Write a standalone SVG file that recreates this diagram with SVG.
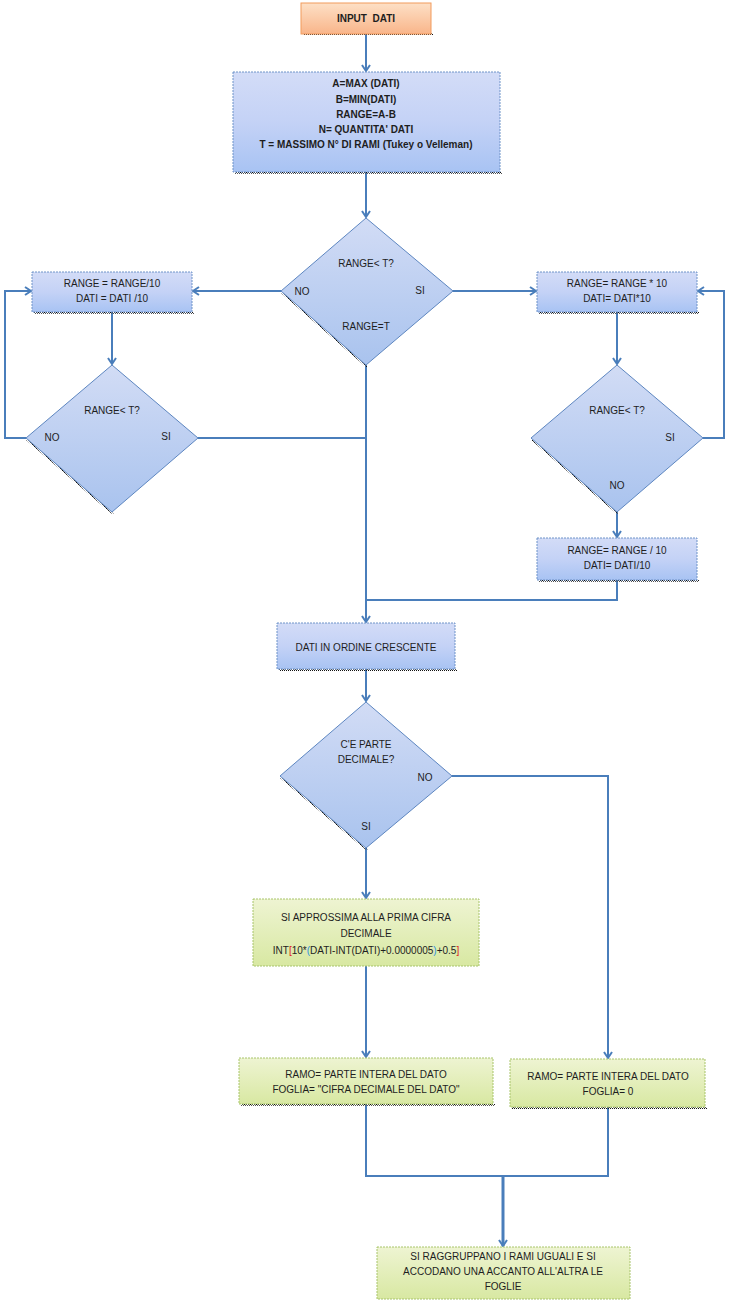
<svg xmlns="http://www.w3.org/2000/svg" width="729" height="1300" viewBox="0 0 729 1300">
<style>
text{font-family:"Liberation Sans",Arial,sans-serif;font-size:10px;fill:#1e1e1e;text-anchor:middle;dominant-baseline:central}
.b{font-weight:bold}
.blue{fill:url(#gBlue);stroke:#6f93c8;stroke-width:1;stroke-dasharray:2 1}
.dia{fill:url(#gDia);stroke:#5d86c0;stroke-width:1}
.green{fill:url(#gGreen);stroke:#a8c46a;stroke-width:1;stroke-dasharray:2 1}
.orange{fill:url(#gOrange);stroke:#f29b5c;stroke-width:1}
.sh{fill:url(#dots)}
.c{fill:none;stroke:#4a7ebb;stroke-width:2}
.a{marker-end:url(#arr)}
.red{fill:#e02020}
.lb{fill:#2e8ee0}
</style>
<defs>
<pattern id="dots" width="2" height="2" patternUnits="userSpaceOnUse"><rect width="1" height="1" fill="#111"/><rect x="1" y="1" width="1" height="1" fill="#555"/></pattern>
<linearGradient id="gBlue" x1="0" y1="0" x2="0" y2="1"><stop offset="0" stop-color="#d3dcf7"/><stop offset="0.5" stop-color="#c4d2f6"/><stop offset="1" stop-color="#a8c3f3"/></linearGradient>
<linearGradient id="gDia" x1="0" y1="0" x2="0" y2="1"><stop offset="0" stop-color="#d2dcf5"/><stop offset="1" stop-color="#a9c3ee"/></linearGradient>
<linearGradient id="gGreen" x1="0" y1="0" x2="0" y2="1"><stop offset="0" stop-color="#eef4d2"/><stop offset="1" stop-color="#d8e8a2"/></linearGradient>
<linearGradient id="gOrange" x1="0" y1="0" x2="0" y2="1"><stop offset="0" stop-color="#fde0c6"/><stop offset="1" stop-color="#f9b58a"/></linearGradient>
<marker id="arr" markerUnits="userSpaceOnUse" markerWidth="12" markerHeight="12" refX="7" refY="5" orient="auto" viewBox="0 0 12 10"><path d="M1,1 L7,5 L1,9" fill="none" stroke="#4a7ebb" stroke-width="2"/></marker>
</defs>

<g id="connectors">
<path class="c a" d="M366,34 V71"/>
<path class="c a" d="M366,172 V217"/>
<path class="c a" d="M281,291 H193"/>
<path class="c a" d="M453,291 H536"/>
<path class="c a" d="M112,312 V364"/>
<path class="c a" d="M617,312 V364"/>
<path class="c a" d="M26,438 H5 V291 H31"/>
<path class="c a" d="M703,438 H724 V291 H698"/>
<path class="c" d="M198,438 H366"/>
<path class="c a" d="M366,365 V622"/>
<path class="c a" d="M617,512 V537"/>
<path class="c" d="M617,580 V600 H366"/>
<path class="c a" d="M366,669 V701"/>
<path class="c a" d="M452,776 H608 V1058"/>
<path class="c a" d="M366,848 V898"/>
<path class="c a" d="M366,966 V1057"/>
<path class="c" d="M366,1104 V1176 H608 V1107"/>
<path class="c a" d="M503,1176 V1246" style="stroke-width:3"/>
</g>

<g id="input">
<rect class="sh" x="303" y="33" width="130" height="2"/>
<rect class="orange" x="301" y="3" width="130" height="31"/>
<text class="b" x="366" y="18.5" xml:space="preserve">INPUT  DATI</text>
</g>

<g id="init">
<rect class="sh" x="235" y="172" width="267" height="2"/>
<rect class="blue" x="233" y="72" width="267" height="100"/>
<text class="b" x="366" y="83">A=MAX (DATI)</text>
<text class="b" x="366" y="99">B=MIN(DATI)</text>
<text class="b" x="366" y="114">RANGE=A-B</text>
<text class="b" x="366" y="129">N= QUANTITA' DATI</text>
<text class="b" x="366" y="144">T = MASSIMO N° DI RAMI (Tukey o Velleman)</text>
</g>

<g id="dec1">
<polygon class="sh" points="281,293 366,367 368,367 283,293"/>
<polygon class="dia" points="366,218 453,291 366,365 281,291"/>
<text x="366" y="263">RANGE&lt; T?</text>
<text x="302" y="291">NO</text>
<text x="420" y="290">SI</text>
<text x="366" y="326">RANGE=T</text>
</g>

<g id="divbox">
<rect class="sh" x="34" y="312" width="160" height="2"/>
<rect class="blue" x="32" y="272" width="160" height="40"/>
<text x="112" y="283">RANGE = RANGE/10</text>
<text x="112" y="298">DATI = DATI /10</text>
</g>

<g id="decL">
<polygon class="sh" points="26,440 112,514 114,514 28,440"/>
<polygon class="dia" points="112,365 198,438 112,512 26,438"/>
<text x="112" y="410">RANGE&lt; T?</text>
<text x="52" y="437">NO</text>
<text x="166" y="436">SI</text>
</g>

<g id="mulbox">
<rect class="sh" x="539" y="312" width="160" height="2"/>
<rect class="blue" x="537" y="272" width="160" height="40"/>
<text x="617" y="283">RANGE= RANGE * 10</text>
<text x="617" y="298">DATI= DATI*10</text>
</g>

<g id="decR">
<polygon class="sh" points="531,440 617,514 619,514 533,440"/>
<polygon class="dia" points="617,365 703,438 617,512 531,438"/>
<text x="617" y="410">RANGE&lt; T?</text>
<text x="670" y="437">SI</text>
<text x="617" y="485">NO</text>
</g>

<g id="divbox2">
<rect class="sh" x="539" y="580" width="160" height="2"/>
<rect class="blue" x="537" y="538" width="160" height="42"/>
<text x="617" y="550">RANGE= RANGE / 10</text>
<text x="617" y="565">DATI= DATI/10</text>
</g>

<g id="sort">
<rect class="sh" x="279" y="669" width="178" height="2"/>
<rect class="blue" x="277" y="623" width="178" height="46"/>
<text x="366" y="647">DATI IN ORDINE CRESCENTE</text>
</g>

<g id="dec2">
<polygon class="sh" points="280,778 366,850 368,850 282,778"/>
<polygon class="dia" points="366,702 452,776 366,848 280,776"/>
<text x="366" y="744">C'E PARTE</text>
<text x="366" y="759">DECIMALE?</text>
<text x="425" y="777">NO</text>
<text x="366" y="826">SI</text>
</g>

<g id="approx">
<rect class="green" x="253" y="899" width="226" height="67"/>
<text x="366" y="917">SI APPROSSIMA ALLA PRIMA CIFRA</text>
<text x="366" y="933">DECIMALE</text>
<text x="366" y="950">INT<tspan class="red">[</tspan>10*<tspan class="lb">(</tspan>DATI-INT(DATI)+0.0000005<tspan class="lb">)</tspan>+0.5<tspan class="red">]</tspan></text>
</g>

<g id="ramo1">
<rect class="sh" x="241" y="1104" width="254" height="2"/>
<rect class="green" x="239" y="1058" width="254" height="46"/>
<text x="366" y="1074">RAMO= PARTE INTERA DEL DATO</text>
<text x="366" y="1089">FOGLIA= "CIFRA DECIMALE DEL DATO"</text>
</g>

<g id="ramo2">
<rect class="sh" x="512" y="1107" width="195" height="2"/>
<rect class="green" x="510" y="1059" width="195" height="48"/>
<text x="608" y="1076">RAMO= PARTE INTERA DEL DATO</text>
<text x="608" y="1091">FOGLIA= 0</text>
</g>

<g id="group">
<rect class="green" x="377" y="1247" width="253" height="52"/>
<text x="503" y="1256">SI RAGGRUPPANO I RAMI UGUALI E SI</text>
<text x="503" y="1271">ACCODANO UNA ACCANTO ALL'ALTRA LE</text>
<text x="503" y="1286">FOGLIE</text>
</g>
</svg>
